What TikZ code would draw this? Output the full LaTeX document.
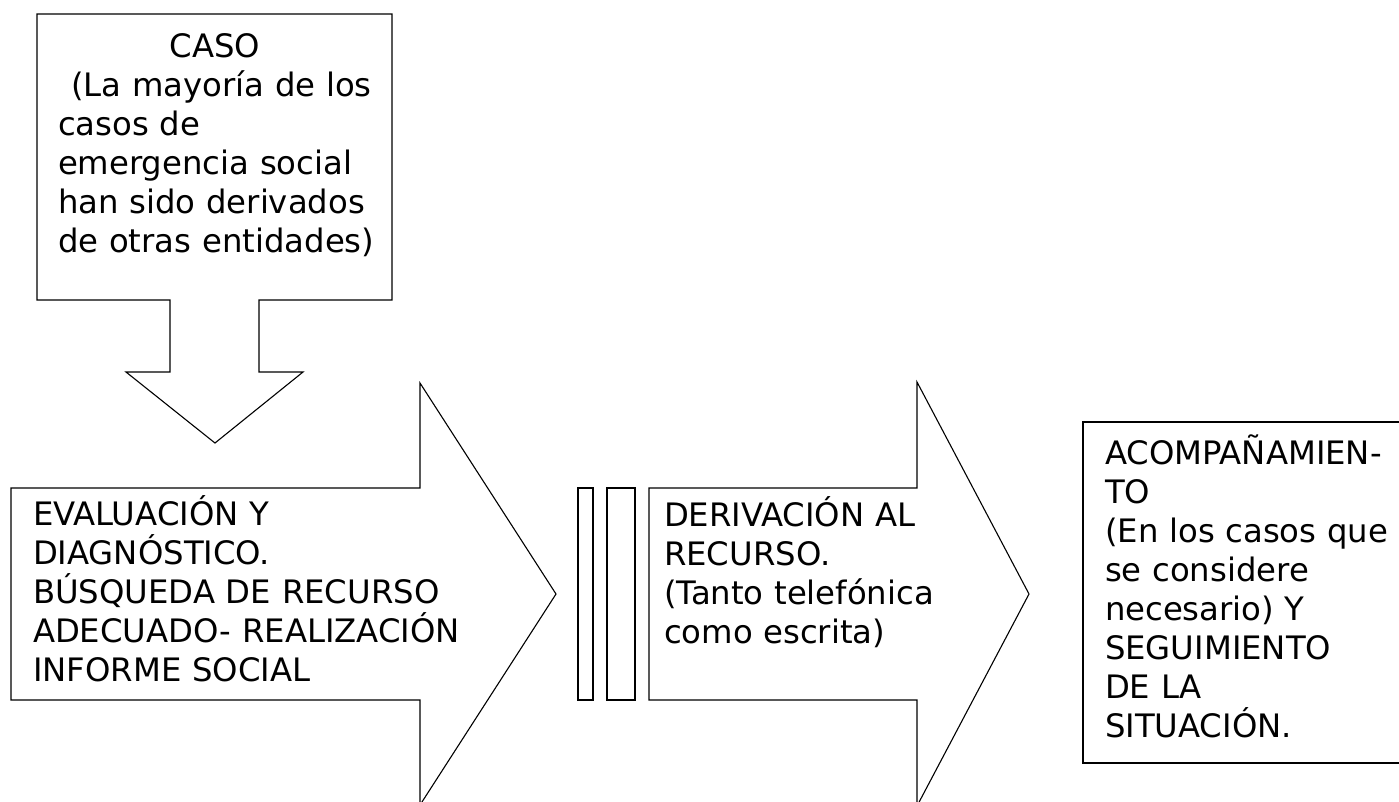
\documentclass[tikz,border=0pt]{standalone}
\usepackage{fontspec}
\setmainfont{DejaVu Sans}
\newcommand{\diagfont}{\fontsize{32.3}{39}\selectfont}
\hyphenpenalty=10000
\exhyphenpenalty=10000
\begin{document}
\begin{tikzpicture}[x=1pt,y=-1pt,
  shapeline/.style={draw=black,line width=1.1pt,line join=miter,fill=white},
  boxline/.style={draw=black,line width=2pt,fill=white},
  txt/.style={anchor=base west,inner sep=0pt,outer sep=0pt,align=left,text width=#1,
    font=\diagfont},
]
\useasboundingbox (0,0) rectangle (1399,801);
\clip (0,0) rectangle (1399,801);
% CASO callout
\path[shapeline] (37,14) -- (392,14) -- (392,300) -- (259,300) -- (259,372) -- (303,372)
  -- (215,443) -- (126,372) -- (170,372) -- (170,300) -- (37,300) -- cycle;
\node[txt=420pt] (caso) at (58,57) {\makebox[314pt][c]{CASO}\\
\hspace*{13pt}(La mayoría de los\\casos de\\emergencia social\\han sido derivados\\de otras entidades)};
% Arrow 1
\path[shapeline] (11,488) -- (420,488) -- (420,383) -- (556,594) -- (420,805) -- (420,700) -- (11,700) -- cycle;
\node[txt=600pt] (eval) at (33,525) {EVALUACIÓN Y\\DIAGNÓSTICO.\\BÚSQUEDA DE RECURSO\\ADECUADO- REALIZACIÓN\\INFORME SOCIAL};
% bars
\path[shapeline] (578,488) rectangle (593,700);
\path[shapeline] (607,488) rectangle (635,700);
% Arrow 2
\path[shapeline] (649,488) -- (917,488) -- (917,382) -- (1029,594) -- (917,806) -- (917,700) -- (649,700) -- cycle;
\node[txt=500pt] (deriv) at (664,526) {DERIVACIÓN AL\\RECURSO.\\(Tanto telefónica\\como escrita)};
% Right box
\path[boxline] (1083,422) rectangle (1420,763);
\node[txt=500pt] (acomp) at (1105,464) {ACOMPAÑAMIEN-\\TO\\(En los casos que\\se considere\\necesario) Y\\SEGUIMIENTO\\DE LA\\SITUACIÓN.};
\end{tikzpicture}
\end{document}
